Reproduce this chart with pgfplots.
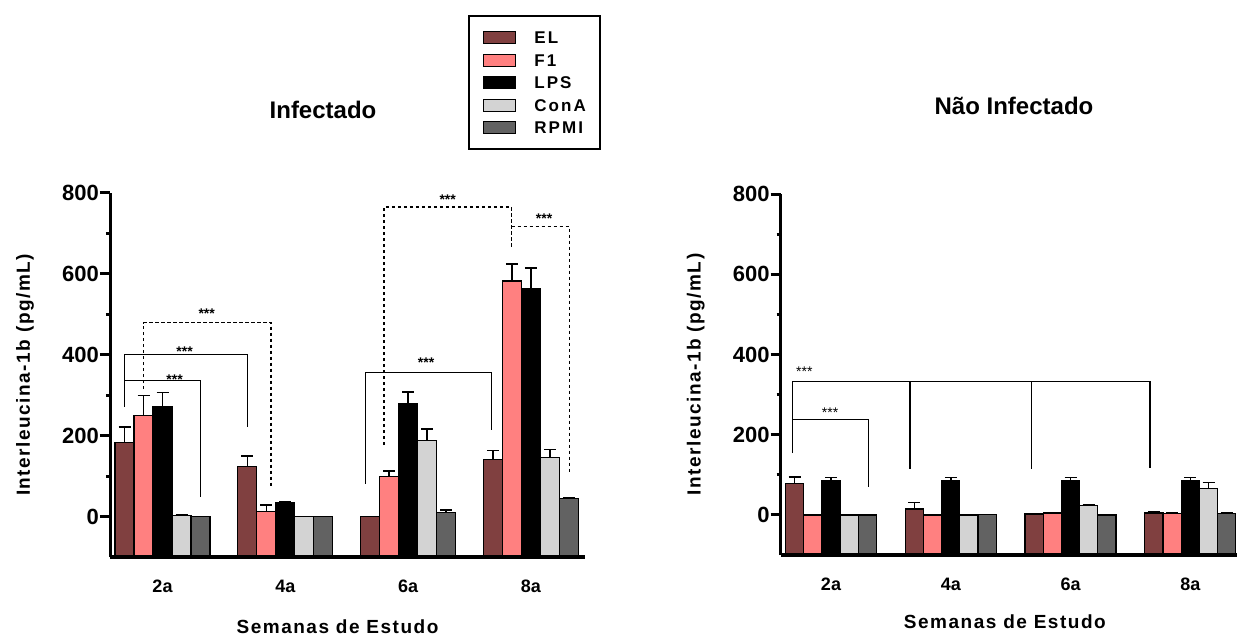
\documentclass[border=0pt]{standalone}
\usepackage{fontspec}
\setmainfont{Liberation Sans}
\newfontfamily\wideA[LetterSpace=12]{Liberation Sans}
\newfontfamily\wideB[LetterSpace=8]{Liberation Sans}
\usepackage{pgfplots}
\pgfplotsset{compat=1.18}

\definecolor{cEL}{RGB}{128,64,64}
\definecolor{cFone}{RGB}{255,128,128}
\definecolor{cLPS}{RGB}{0,0,0}
\definecolor{cCon}{RGB}{211,211,211}
\definecolor{cRP}{RGB}{98,98,98}

\tikzset{
  brk/.style={line width=1.3pt, black},
  dbrk/.style={line width=1.3pt, black, dash pattern=on 3.5pt off 2.5pt},
}

\pgfplotsset{
  panel/.style={
    scale only axis, ybar, clip=false, axis on top,
    ymin=-100, ymax=800,
    y coord trafo/.code={\pgfmathparse{##1+100}},
    y coord inv trafo/.code={\pgfmathparse{##1-100}},
    axis x line*=bottom, axis y line*=left,
    x axis line style={line width=4pt,-},
    y axis line style={line width=3pt,-},
    tick align=outside,
    ytick={0,200,400,600,800},
    minor ytick={100,300,500,700},
    major tick length=10pt, minor tick length=4pt,
    tick style={line width=3pt, black},
    xtick={0,1,2,3}, xticklabels={2a,4a,6a,8a},
    x tick style={draw=none},
    /pgf/number format/assume math mode=true,
    yticklabel style={font=\bfseries\fontsize{22}{22}\selectfont, inner sep=1pt},
    xticklabel style={font=\bfseries\fontsize{18}{18}\selectfont, inner sep=0pt, yshift=-13pt},
    xlabel={Semanas de Estudo}, ylabel={Interleucina-1b (pg/mL)},
    label style={font=\wideB\bfseries\fontsize{19}{19}\selectfont},
    ylabel style={at={([xshift=-85pt]axis description cs:0,0.5)}, anchor=center},
    error bars/y dir=plus, error bars/y explicit,
    error bars/error bar style={line width=1.5pt, black, solid},
    error bars/error mark options={rotate=90, line width=1.5pt, black, mark size=6pt, solid},
  },
  bars/.style={draw=black, line width=1.2pt, fill=#1},
  sw/.style={legend image code/.code={\draw[draw=black, fill=#1, line width=1pt] (0pt,-6pt) rectangle (32pt,6pt);}},
}

\begin{document}
\begin{tikzpicture}
\path[use as bounding box] (0,0) rectangle (1237pt,637pt);

% Infectado
\begin{axis}[panel,
  at={(110pt,79.8pt)}, anchor=south west,
  width=475pt, height=364.5pt,
  xmin=-0.4275, xmax=3.44,
  bar width=0.1547,
  xlabel style={at={(axis description cs:0.5,0)}, anchor=center, yshift=-69.5pt, xshift=-10pt},
  legend style={at={(0.753,1.487)}, anchor=north west, draw=black, line width=2pt, fill=white,
    inner xsep=14pt, inner ysep=15pt, row sep=9.5pt,
    font=\wideA\bfseries\fontsize{17}{17}\selectfont,
    cells={anchor=west},
    nodes={inner sep=0pt, text height=12pt, text depth=0pt},
    /tikz/every odd column/.append style={column sep=18.7pt}},
  legend cell align=left,
]
\addplot[bars=cEL, sw=cEL, bar shift=-0.3094] coordinates
  {(0,184) +- (0,38) (1,124) +- (0,26) (2,0) +- (0,0) (3,142) +- (0,21)};
\addplot[bars=cFone, sw=cFone, bar shift=-0.1547] coordinates
  {(0,249) +- (0,50) (1,12) +- (0,17) (2,99) +- (0,14) (3,582) +- (0,42)};
\addplot[bars=cLPS, sw=cLPS, bar shift=0] coordinates
  {(0,273) +- (0,34) (1,35) +- (0,3) (2,280) +- (0,28) (3,562) +- (0,52)};
\addplot[bars=cCon, sw=cCon, bar shift=0.1547] coordinates
  {(0,3) +- (0,2) (1,0) +- (0,0) (2,189) +- (0,28) (3,146) +- (0,20)};
\addplot[bars=cRP, sw=cRP, bar shift=0.3094] coordinates
  {(0,0) +- (0,0) (1,0) +- (0,0) (2,10) +- (0,6) (3,45) +- (0,1)};
\legend{EL,F1,LPS,ConA,RPMI}

% significance brackets
\draw[brk] (axis cs:-0.309,272) -- (axis cs:-0.309,401) -- (axis cs:0.691,401) -- (axis cs:0.691,222);
\draw[brk] (axis cs:-0.309,337) -- (axis cs:0.31,337) -- (axis cs:0.31,48);
\draw[dbrk] (axis cs:-0.155,315) -- (axis cs:-0.155,479) -- (axis cs:0.884,479) -- (axis cs:0.884,72);
\draw[brk] (axis cs:1.655,81) -- (axis cs:1.655,356) -- (axis cs:2.68,356) -- (axis cs:2.68,214);
\draw[dbrk] (axis cs:1.804,177) -- (axis cs:1.804,765) -- (axis cs:2.843,765) -- (axis cs:2.843,663);
\draw[dbrk] (axis cs:2.843,716) -- (axis cs:3.315,716) -- (axis cs:3.315,107);
\begin{scope}[every node/.style={anchor=base, inner sep=0pt, font=\bfseries\fontsize{14}{14}\selectfont}]
\node at (axis cs:0.098,327) {***};
\node at (axis cs:0.18,396) {***};
\node at (axis cs:0.36,490) {***};
\node at (axis cs:2.146,369) {***};
\node at (axis cs:2.322,770) {***};
\node at (axis cs:3.107,725) {***};
\end{scope}
\end{axis}

% Nao Infectado
\begin{axis}[panel,
  at={(780.7pt,81.9pt)}, anchor=south west,
  width=456.3pt, height=361.1pt,
  xmin=-0.42, xmax=3.39,
  bar width=0.152,
  xlabel style={at={(axis description cs:0.5,0)}, anchor=center, yshift=-66.6pt, xshift=-4pt},
]
\addplot[bars=cEL, bar shift=-0.304] coordinates
  {(0,79) +- (0,16) (1,15) +- (0,16) (2,2.5) +- (0,1) (3,5) +- (0,3)};
\addplot[bars=cFone, bar shift=-0.152] coordinates
  {(0,0) +- (0,0) (1,0) +- (0,0) (2,5) +- (0,0.5) (3,4) +- (0,1)};
\addplot[bars=cLPS, bar shift=0] coordinates
  {(0,86.5) +- (0,6.5) (1,86.5) +- (0,6.5) (2,86.5) +- (0,6.5) (3,86.5) +- (0,6.5)};
\addplot[bars=cCon, bar shift=0.152] coordinates
  {(0,0) +- (0,0) (1,0) +- (0,0) (2,23) +- (0,2) (3,65) +- (0,16)};
\addplot[bars=cRP, bar shift=0.304] coordinates
  {(0,0) +- (0,0) (1,1) +- (0,0) (2,0) +- (0,0) (3,4) +- (0,2)};

\draw[brk] (axis cs:-0.32,154) -- (axis cs:-0.32,332) -- (axis cs:2.663,332) -- (axis cs:2.663,116);
\draw[brk] (axis cs:0.66,332) -- (axis cs:0.66,114);
\draw[brk] (axis cs:1.675,332) -- (axis cs:1.675,114);
\draw[brk] (axis cs:-0.32,238.6) -- (axis cs:0.311,238.6) -- (axis cs:0.311,70.6);
\begin{scope}[every node/.style={anchor=base, inner sep=0pt, font=\fontsize{14}{14}\selectfont}]
\node at (axis cs:-0.223,344) {***};
\node at (axis cs:-0.008,242) {***};
\end{scope}
\end{axis}

% panel titles
\node[font=\bfseries\fontsize{24}{24}\selectfont] at (323pt,527pt) {Infectado};
\node[font=\bfseries\fontsize{24}{24}\selectfont] at (1014pt,531pt) {Não Infectado};
\end{tikzpicture}
\end{document}
